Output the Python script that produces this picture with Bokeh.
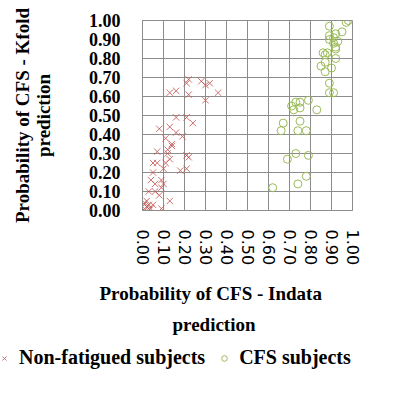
from bokeh.plotting import figure
from bokeh.models import (Range1d, FixedTicker, NumeralTickFormatter, Title,
                          Legend, LegendItem)
from bokeh.layouts import column
from bokeh.embed import file_html
from bokeh.resources import INLINE

# Non-fatigued subjects (x = Indata prediction, y = Kfold prediction)
nf_x = [0.21, 0.22, 0.28, 0.32, 0.30, 0.13, 0.16, 0.22, 0.36, 0.30,
        0.16, 0.21, 0.24, 0.13, 0.16, 0.08, 0.19, 0.11, 0.14, 0.07,
        0.12, 0.13, 0.21, 0.22, 0.05, 0.07, 0.11, 0.12, 0.18, 0.21,
        0.05, 0.04, 0.09, 0.06, 0.09, 0.03, 0.06, 0.08, 0.13, 0.01,
        0.02, 0.03, 0.01, 0.04, 0.05, 0.00, 0.09, 0.02, 0.03, 0.10,
        0.14, 0.10]
nf_y = [0.67, 0.69, 0.68, 0.67, 0.66, 0.62, 0.63, 0.61, 0.62, 0.58,
        0.49, 0.49, 0.46, 0.44, 0.41, 0.43, 0.39, 0.38, 0.34, 0.31,
        0.30, 0.27, 0.29, 0.28, 0.25, 0.25, 0.25, 0.32, 0.21, 0.22,
        0.20, 0.16, 0.16, 0.14, 0.12, 0.10, 0.10, 0.08, 0.05, 0.04,
        0.02, 0.01, 0.00, 0.01, 0.03, 0.02, 0.01, 0.05, 0.03, 0.14,
        0.35, 0.22]

# CFS subjects
cfs_x = [0.98, 0.97, 0.89, 0.95, 0.92, 0.89, 0.91, 0.93, 0.91, 0.92,
         0.92, 0.86, 0.87, 0.88, 0.92, 0.87, 0.85, 0.90, 0.87, 0.89,
         0.89, 0.91, 0.71, 0.73, 0.75, 0.72, 0.75, 0.79, 0.83, 0.67,
         0.75, 0.66, 0.74, 0.78, 0.73, 0.69, 0.79, 0.78, 0.74, 0.62,
         0.89]
cfs_y = [1.00, 0.99, 0.97, 0.94, 0.93, 0.92, 0.91, 0.89, 0.88, 0.86,
         0.85, 0.83, 0.82, 0.83, 0.80, 0.78, 0.76, 0.75, 0.73, 0.67,
         0.62, 0.62, 0.55, 0.57, 0.57, 0.53, 0.54, 0.58, 0.53, 0.46,
         0.47, 0.42, 0.42, 0.42, 0.30, 0.27, 0.29, 0.18, 0.14, 0.12,
         0.90]

ticks = [0.0, 0.1, 0.2, 0.3, 0.4, 0.5, 0.6, 0.7, 0.8, 0.9, 1.0]

x_title = ["Probability of CFS - Indata", "prediction"]
y_title = "Probability of CFS - Kfold\nprediction"
series_names = ["Non-fatigued subjects", "CFS subjects"]

RED = "#c0504d"
GREEN = "#9bbb59"
GRID = "#8c8c8c"
SERIF = "Liberation Serif"

p = figure(width=384, height=337, output_backend="svg", toolbar_location=None,
           x_range=Range1d(0, 1), y_range=Range1d(0, 1),
           min_border_left=127, min_border_right=40,
           min_border_top=12, min_border_bottom=135,
           margin=(8, 0, 0, 8))
try:
    p.frame_align = False
except Exception:
    pass

p.outline_line_color = GRID
p.outline_line_width = 1

for ax in (p.xaxis[0], p.yaxis[0]):
    ax.ticker = FixedTicker(ticks=ticks)
    ax.formatter = NumeralTickFormatter(format="0.00")
    ax.major_tick_line_color = None
    ax.minor_tick_line_color = None
    ax.axis_line_color = GRID
    ax.major_label_text_color = "black"

p.yaxis.major_label_text_font = SERIF
p.yaxis.major_label_text_font_style = "bold"
p.yaxis.major_label_text_font_size = "18px"
p.yaxis.major_label_standoff = 16
p.yaxis.axis_label = y_title
p.yaxis.axis_label_text_font = SERIF
p.yaxis.axis_label_text_font_style = "bold"
p.yaxis.axis_label_text_font_size = "19px"
p.yaxis.axis_label_text_line_height = 1.0
p.yaxis.axis_label_standoff = 32
p.yaxis.axis_label_text_color = "black"

p.xaxis.major_label_orientation = "vertical"
p.xaxis.major_label_text_font = "DejaVu Sans"
p.xaxis.major_label_text_font_size = "16px"
p.xaxis.major_label_standoff = 13

for g in (p.xgrid[0], p.ygrid[0]):
    g.ticker = FixedTicker(ticks=ticks)
    g.grid_line_color = GRID
    g.grid_line_width = 1

p.scatter(nf_x, nf_y, marker="x", size=9, line_color=RED,
          line_alpha=0.8, line_width=1)
p.scatter(cfs_x, cfs_y, marker="circle", size=8, fill_color=None,
          line_color=GREEN, line_width=1)

# x axis title (two lines) below the axis
t1 = Title(text=x_title[0], align="left", offset=-43, standoff=25,
           text_font=SERIF, text_font_style="bold", text_font_size="19px",
           text_color="black")
t2 = Title(text=x_title[1], align="left", offset=30, standoff=-10,
           text_font=SERIF, text_font_style="bold", text_font_size="19px",
           text_color="black")
p.add_layout(t1, "below")
p.add_layout(t2, "below")

# legend strip under the chart (its sample glyphs use the same series,
# kept outside the strip's visible range so only the legend shows)
lg = figure(width=392, height=34, output_backend="svg", toolbar_location=None,
            x_range=Range1d(0, 1), y_range=Range1d(5, 6),
            x_axis_location=None, y_axis_location=None, min_border=0)
try:
    lg.frame_align = False
except Exception:
    pass
lg.outline_line_color = None
lg.grid.visible = False
k_nf = lg.scatter(nf_x, nf_y, marker="x", size=9, line_color=RED,
                  line_alpha=0.8, line_width=1)
k_cfs = lg.scatter(cfs_x, cfs_y, marker="circle", size=8, fill_color=None,
                   line_color=GREEN, line_width=1)
legend = Legend(items=[LegendItem(label=series_names[0], renderers=[k_nf]),
                       LegendItem(label=series_names[1], renderers=[k_cfs])],
                location=(-3, 10), orientation="horizontal",
                glyph_width=14, glyph_height=14, label_standoff=8, spacing=12,
                padding=0, margin=0, border_line_color=None,
                background_fill_alpha=0,
                label_text_font=SERIF, label_text_font_style="bold",
                label_text_font_size="20px", label_text_color="black")
lg.add_layout(legend, "center")

layout = column(p, lg, spacing=0)
open("out.html", "w").write(file_html(layout, INLINE))
